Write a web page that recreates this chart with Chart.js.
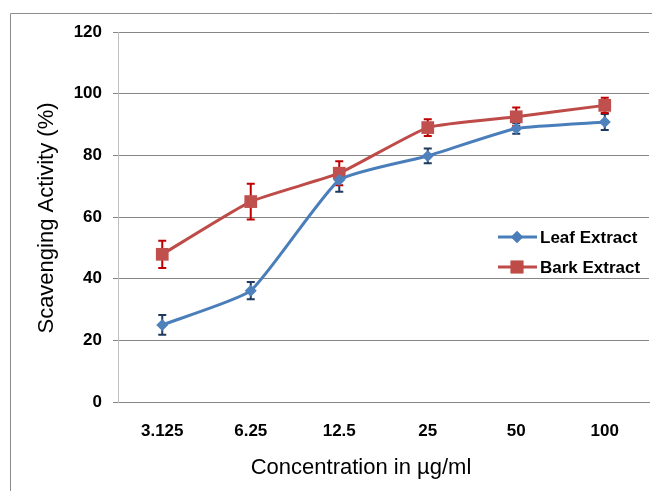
<!DOCTYPE html>
<html>
<head>
<meta charset="utf-8">
<script src="https://cdn.jsdelivr.net/npm/chart.js@4/dist/chart.umd.min.js"></script>
<style>
  html, body { margin: 0; padding: 0; background: #fff; overflow: hidden; }
  /* a bit wider than the window so the point overflow padding falls off-screen */
  #wrap { width: 658px; height: 491px; position: relative; }
</style>
</head>
<body>
<div id="wrap"><canvas id="chart"></canvas></div>
<script>
// Data
const concentrations = ['3.125', '6.25', '12.5', '25', '50', '100'];
const leafValues = [25, 36.1, 72, 79.8, 88.7, 90.8];
const leafErrors = [3.2, 2.8, 3.8, 2.4, 1.7, 2.6];
const barkValues = [47.9, 65, 74.2, 89, 92.5, 96.2];
const barkErrors = [4.4, 5.8, 3.9, 2.7, 3, 2.5];
const yTicks = [0, 20, 40, 60, 80, 100, 120];

const LEAF = '#4A7EBB';
const BARK = '#BE4B48';

// Frame, axis titles and legend drawn on the canvas
const decorPlugin = {
  id: 'decor',
  beforeDraw(chart) {
    const ctx = chart.ctx;
    ctx.save();
    ctx.strokeStyle = '#8C8C8C';
    ctx.lineWidth = 1;
    ctx.beginPath();
    ctx.moveTo(10.5, 500);
    ctx.lineTo(10.5, 13.5);
    ctx.lineTo(670, 13.5);
    ctx.stroke();
    ctx.restore();
  },
  afterDraw(chart) {
    const ctx = chart.ctx;
    ctx.save();
    ctx.fillStyle = '#000';
    ctx.font = '22px "Liberation Sans", Arial, sans-serif';
    ctx.textAlign = 'center';
    ctx.textBaseline = 'middle';
    ctx.fillText('Concentration in µg/ml', 361, 468);

    ctx.translate(47, 218);
    ctx.rotate(-Math.PI / 2);
    ctx.fillText('Scavenging Activity (%)', 0, 0);
    ctx.restore();

    // legend
    const items = [
      { label: 'Leaf Extract', color: LEAF, style: 'rectRot', r: 6, y: 237 },
      { label: 'Bark Extract', color: BARK, style: 'rect', r: 9, y: 267 }
    ];
    ctx.save();
    items.forEach(it => {
      ctx.strokeStyle = it.color;
      ctx.lineWidth = 3;
      ctx.beginPath();
      ctx.moveTo(498, it.y);
      ctx.lineTo(537, it.y);
      ctx.stroke();
      ctx.fillStyle = it.color;
      Chart.helpers.drawPoint(ctx, { pointStyle: it.style, radius: it.r, borderWidth: 0, rotation: 0 }, 517, it.y);
      ctx.fill();
      ctx.fillStyle = '#000';
      ctx.font = 'bold 17px "Liberation Sans", Arial, sans-serif';
      ctx.textAlign = 'left';
      ctx.textBaseline = 'middle';
      ctx.fillText(it.label, 540, it.y + 1);
    });
    ctx.restore();
  }
};

// Error bars (drawn before the markers so squares sit on top)
const errorBarPlugin = {
  id: 'errorBars',
  beforeDatasetsDraw(chart) {
    const ctx = chart.ctx;
    const yScale = chart.scales.y;
    ctx.save();
    chart.data.datasets.forEach((ds, i) => {
      const meta = chart.getDatasetMeta(i);
      ctx.strokeStyle = ds.errorColor;
      ctx.lineWidth = 2;
      meta.data.forEach((pt, j) => {
        const v = ds.data[j];
        const e = ds.errors[j];
        const top = yScale.getPixelForValue(v + e);
        const bot = yScale.getPixelForValue(v - e);
        ctx.beginPath();
        ctx.moveTo(pt.x, top);
        ctx.lineTo(pt.x, bot);
        ctx.moveTo(pt.x - 4, top);
        ctx.lineTo(pt.x + 4, top);
        ctx.moveTo(pt.x - 4, bot);
        ctx.lineTo(pt.x + 4, bot);
        ctx.stroke();
      });
    });
    ctx.restore();
  }
};

new Chart(document.getElementById('chart'), {
  type: 'line',
  data: {
    labels: concentrations,
    datasets: [
      {
        label: 'Leaf Extract',
        data: leafValues,
        errors: leafErrors,
        errorColor: '#1F3A5F',
        borderColor: LEAF,
        backgroundColor: '#4F81BD',
        borderWidth: 3,
        pointStyle: 'rectRot',
        pointRadius: 6,
        pointBorderWidth: 0,
        tension: 0.15
      },
      {
        label: 'Bark Extract',
        data: barkValues,
        errors: barkErrors,
        errorColor: '#C00000',
        borderColor: BARK,
        backgroundColor: '#C0504D',
        borderWidth: 3,
        pointStyle: 'rect',
        pointRadius: 9,
        pointBorderWidth: 0,
        tension: 0.15
      }
    ]
  },
  options: {
    responsive: true,
    maintainAspectRatio: false,
    animation: false,
    layout: { padding: { left: 0, top: 32, right: 0, bottom: 0 } },
    plugins: {
      legend: { display: false },
      tooltip: { enabled: false }
    },
    scales: {
      x: {
        offset: true,
        grid: { display: false, drawTicks: false },
        border: { display: true, color: '#868686', width: 1 },
        ticks: {
          color: '#000',
          padding: 19,
          maxRotation: 0,
          font: { family: '"Liberation Sans", Arial, sans-serif', size: 17, weight: 'bold' }
        },
        afterFit(scale) { scale.height = 89; }
      },
      y: {
        min: 0,
        max: 120,
        afterBuildTicks(scale) { scale.ticks = yTicks.map(v => ({ value: v })); },
        grid: { color: '#868686', lineWidth: 1, drawTicks: true, tickLength: 5 },
        border: { display: true, color: '#BFBFBF', width: 1 },
        ticks: {
          color: '#000',
          padding: 11,
          font: { family: '"Liberation Sans", Arial, sans-serif', size: 17, weight: 'bold' }
        },
        afterFit(scale) { scale.width = 118; }
      }
    }
  },
  plugins: [errorBarPlugin, decorPlugin]
});
</script>
</body>
</html>
